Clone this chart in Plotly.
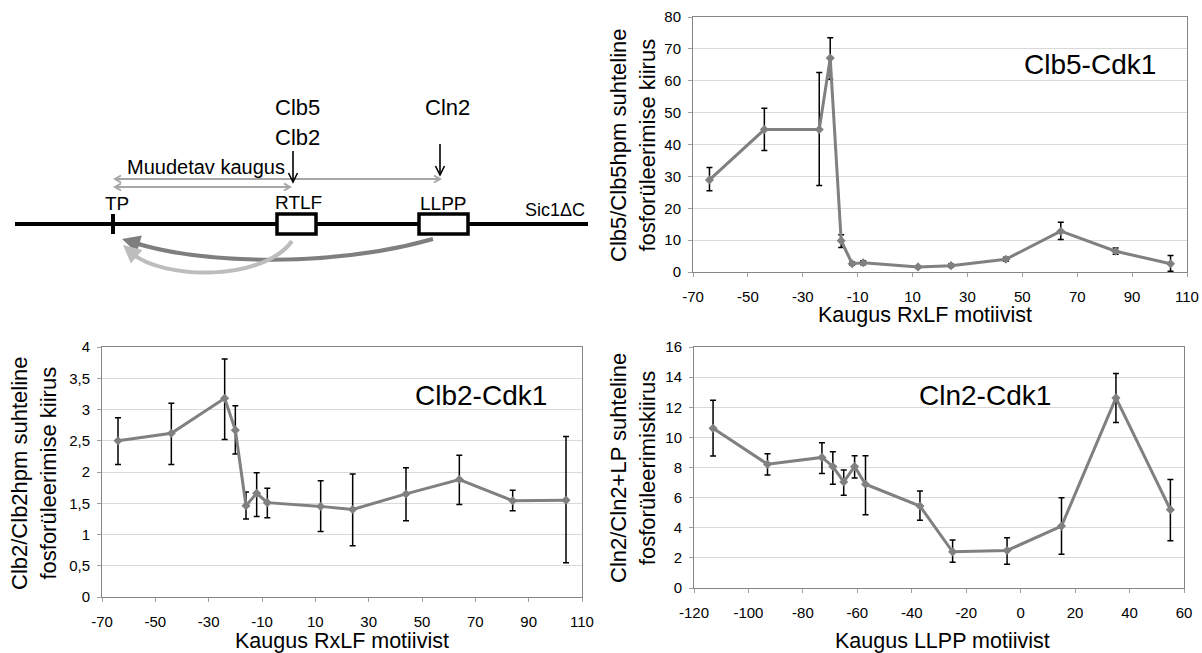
import math
import plotly.graph_objects as go

# ---------------- data ----------------
x_rxlf = [-64, -44, -24, -20, -16, -12, -8, 12, 24, 44, 64, 84, 104]

clb5_y = [28.9, 44.7, 44.7, 67.1, 9.8, 2.6, 2.9, 1.6, 2.0, 4.0, 12.8, 6.5, 2.6]
clb5_hi = [32.8, 51.4, 62.6, 73.5, 11.7, 3.1, 3.5, 2.0, 2.5, 4.6, 15.6, 7.5, 5.2]
clb5_lo = [25.5, 38.1, 27.1, 60.5, 7.7, 2.1, 2.3, 1.2, 1.5, 3.4, 10.2, 5.6, 0.2]

clb2_y = [2.50, 2.62, 3.18, 2.67, 1.46, 1.66, 1.51, 1.45, 1.40, 1.65, 1.88, 1.54, 1.55]
clb2_hi = [2.87, 3.10, 3.81, 3.06, 1.68, 1.99, 1.74, 1.86, 1.97, 2.07, 2.27, 1.71, 2.57]
clb2_lo = [2.12, 2.12, 2.52, 2.29, 1.25, 1.29, 1.27, 1.05, 0.82, 1.22, 1.48, 1.38, 0.55]

x_llpp = [-113, -93, -73, -69, -65, -61, -57, -37, -25, -5, 15, 35, 55]
cln2_y = [10.6, 8.22, 8.67, 8.07, 7.04, 8.07, 6.89, 5.44, 2.40, 2.49, 4.11, 12.62, 5.2]
cln2_hi = [12.47, 8.91, 9.64, 9.04, 7.84, 8.78, 8.78, 6.44, 3.18, 3.33, 6.0, 14.24, 7.2]
cln2_lo = [8.76, 7.51, 7.6, 6.89, 6.16, 7.31, 4.87, 4.49, 1.71, 1.58, 2.24, 10.98, 3.13]

# tick labels (plain hyphen minus as in the original)
ticks_rxlf = [-70, -50, -30, -10, 10, 30, 50, 70, 90, 110]
ticks_llpp = [-120, -100, -80, -60, -40, -20, 0, 20, 40, 60]
ticklabels_rxlf = [str(v) for v in ticks_rxlf]
ticklabels_llpp = [str(v) for v in ticks_llpp]

chart_titles = ["Clb5-Cdk1", "Clb2-Cdk1", "Cln2-Cdk1"]
x_titles = ["Kaugus RxLF motiivist", "Kaugus RxLF motiivist", "Kaugus LLPP motiivist"]
y_titles = ["Clb5/Clb5hpm suhteline<br>fosforüleerimise kiirus",
            "Clb2/Clb2hpm suhteline<br>fosforüleerimise kiirus",
            "Cln2/Cln2+LP suhteline<br>fosforüleerimiskiirus"]

W, H = 1202, 653
FONT = "Arial, Liberation Sans, sans-serif"
LINE_GRAY = "#808080"

fig = go.Figure()

def add_series(x, y, hi, lo, xa, ya):
    fig.add_trace(go.Scatter(
        x=x, y=y, xaxis=xa, yaxis=ya, mode="lines+markers",
        line=dict(color=LINE_GRAY, width=3),
        marker=dict(symbol="diamond", size=7, color=LINE_GRAY),
        error_y=dict(type="data", symmetric=False,
                     array=[h - v for h, v in zip(hi, y)],
                     arrayminus=[v - l for v, l in zip(y, lo)],
                     color="black", thickness=1.5, width=3),
        showlegend=False, hoverinfo="skip", cliponaxis=False))

add_series(x_rxlf, clb5_y, clb5_hi, clb5_lo, "x", "y")
add_series(x_rxlf, clb2_y, clb2_hi, clb2_lo, "x2", "y2")
add_series(x_llpp, cln2_y, cln2_hi, cln2_lo, "x3", "y3")

def px_x(p):
    return p / W

def px_y(p):
    return 1 - p / H

axis_common = dict(showline=True, mirror=True, linecolor="#868686", linewidth=1,
                   ticks="outside", ticklen=4, tickcolor="#a0a0a0", automargin=False,
                   tickfont=dict(family=FONT, size=15, color="black"),
                   zeroline=False, fixedrange=True)

# plot frames in pixels: (left, right, top, bottom)
boxes = {
    "1": (693, 1187, 17, 272),
    "2": (102, 582, 347, 597),
    "3": (694, 1184, 347, 588),
}

def xdom(b):
    return [px_x(b[0]), px_x(b[1])]

def ydom(b):
    return [px_y(b[3]), px_y(b[2])]

fig.update_layout(
    template="none",
    width=W, height=H, autosize=False,
    margin=dict(l=0, r=0, t=0, b=0, pad=0),
    paper_bgcolor="white", plot_bgcolor="white",
    separators=", ",
    font=dict(family=FONT, color="black"),
    xaxis=dict(domain=xdom(boxes["1"]), anchor="y", range=[-70, 110],
               tickmode="array", tickvals=ticks_rxlf, ticktext=ticklabels_rxlf,
               showgrid=False, ticklabelstandoff=7, **axis_common),
    yaxis=dict(domain=ydom(boxes["1"]), anchor="x", range=[0, 80], dtick=10,
               showgrid=True, gridcolor="#d9d9d9", ticklabelstandoff=4, **axis_common),
    xaxis2=dict(domain=xdom(boxes["2"]), anchor="y2", range=[-70, 110],
                tickmode="array", tickvals=ticks_rxlf, ticktext=ticklabels_rxlf,
                showgrid=False, ticklabelstandoff=7, **axis_common),
    yaxis2=dict(domain=ydom(boxes["2"]), anchor="x2", range=[0, 4], dtick=0.5,
                showgrid=True, gridcolor="#d9d9d9", ticklabelstandoff=4, **axis_common),
    xaxis3=dict(domain=xdom(boxes["3"]), anchor="y3", range=[-120, 60],
                tickmode="array", tickvals=ticks_llpp, ticktext=ticklabels_llpp,
                showgrid=False, ticklabelstandoff=7, **axis_common),
    yaxis3=dict(domain=ydom(boxes["3"]), anchor="x3", range=[0, 16], dtick=2,
                showgrid=True, gridcolor="#d9d9d9", ticklabelstandoff=4, **axis_common),
)

annotations = []

def label(t, cx, cy, size, angle=0):
    return dict(text=t, x=px_x(cx), y=px_y(cy), xref="paper", yref="paper",
                xanchor="center", yanchor="middle", showarrow=False, textangle=angle,
                font=dict(size=size, family=FONT, color="black"))

# chart titles
title_pos = [(1090, 65), (481, 395), (985, 395)]
for t, (cx, cy) in zip(chart_titles, title_pos):
    annotations.append(label(t, cx, cy, 28))
# x titles
xt_pos = [(925, 315), (342, 641), (942, 641)]
for t, (cx, cy) in zip(x_titles, xt_pos):
    annotations.append(label(t, cx, cy, 21.5))
# y titles
yt_pos = [(633, 145), (34, 473), (633, 468)]
for t, (cx, cy) in zip(y_titles, yt_pos):
    annotations.append(label(t, cx, cy, 22, -90))

# ---------------- schematic (top-left), pixel positions converted to paper ----------------
shapes = []
P = dict(xref="paper", yref="paper")

def seg(x0, y0, x1, y1, color, width):
    return dict(type="line", x0=px_x(x0), y0=px_y(y0), x1=px_x(x1), y1=px_y(y1),
                line=dict(color=color, width=width), **P)

def bez(pts, color, width):
    (a, b), (c, d), (e, f), (g, h) = pts
    path = "M {},{} C {},{} {},{} {},{}".format(px_x(a), px_y(b), px_x(c), px_y(d),
                                               px_x(e), px_y(f), px_x(g), px_y(h))
    return dict(type="path", path=path, line=dict(color=color, width=width), **P)

def chevron(tx, ty, dx, dy, length, half, color, width):
    n = math.hypot(dx, dy)
    ux, uy = dx / n, dy / n
    bx, by = tx - ux * length, ty - uy * length
    ax_, ay_ = bx - uy * half, by + ux * half
    cx_, cy_ = bx + uy * half, by - ux * half
    path = "M {},{} L {},{} L {},{}".format(px_x(ax_), px_y(ay_), px_x(tx), px_y(ty),
                                           px_x(cx_), px_y(cy_))
    return dict(type="path", path=path, line=dict(color=color, width=width), **P)

shapes.append(seg(15, 224, 588, 224, "black", 4))          # protein line
shapes.append(seg(113, 214, 113, 234, "black", 4))         # TP site
for (bx0, bx1) in [(277, 316), (419, 468)]:                # motif boxes
    shapes.append(dict(type="rect", x0=px_x(bx0), y0=px_y(234), x1=px_x(bx1), y1=px_y(214),
                       fillcolor="white", line=dict(color="black", width=3.5), **P))
shapes.append(bez([(433, 239), (330, 268), (200, 264), (132, 242)], "#7f7f7f", 4))
shapes.append(bez([(292, 241), (265, 280), (165, 282), (130, 252)], "#bdbdbd", 4))

# gray distance arrows (double-headed, open chevrons)
for (xe, ye) in [(440, 179), (290, 187)]:
    shapes.append(seg(115, ye, xe, ye, "#a6a6a6", 2))
    shapes.append(chevron(xe, ye, 1, 0, 6, 3.5, "#a6a6a6", 2))
    shapes.append(chevron(115, ye, -1, 0, 6, 3.5, "#a6a6a6", 2))
# black kinase arrows
for (xa, ytop, ybot) in [(293, 151, 182), (440, 144, 175)]:
    shapes.append(seg(xa, ytop, xa, ybot, "black", 1.6))
    shapes.append(chevron(xa, ybot, 0, 1, 9, 4.5, "black", 1.6))

def arrow(hx, hy, tx, ty, color, width, head=2, size=1.0):
    return dict(x=px_x(hx), y=px_y(hy), xref="paper", yref="paper", ax=tx - hx, ay=ty - hy,
                text="", showarrow=True, arrowhead=head, arrowsize=size, arrowwidth=width,
                arrowcolor=color)

annotations.append(arrow(122, 239, 142, 245, "#7f7f7f", 4, size=0.9))
annotations.append(arrow(123, 245, 137, 257, "#bdbdbd", 4, size=0.9))

labels = [("Clb5", 297, 108, 22), ("Clb2", 297, 138, 22), ("Cln2", 447, 108, 22),
          ("Muudetav kaugus", 206, 167, 20), ("TP", 117, 203, 19), ("RTLF", 298, 202, 19),
          ("LLPP", 443, 203, 19), ("Sic1ΔC", 555, 210, 18)]
for (t, lx, ly, fs) in labels:
    annotations.append(label(t, lx, ly, fs))

fig.update_layout(shapes=shapes, annotations=annotations)
fig.write_html("out.html", config={"displayModeBar": False},
               post_script="document.body.style.margin='0';document.body.style.padding='0';")
